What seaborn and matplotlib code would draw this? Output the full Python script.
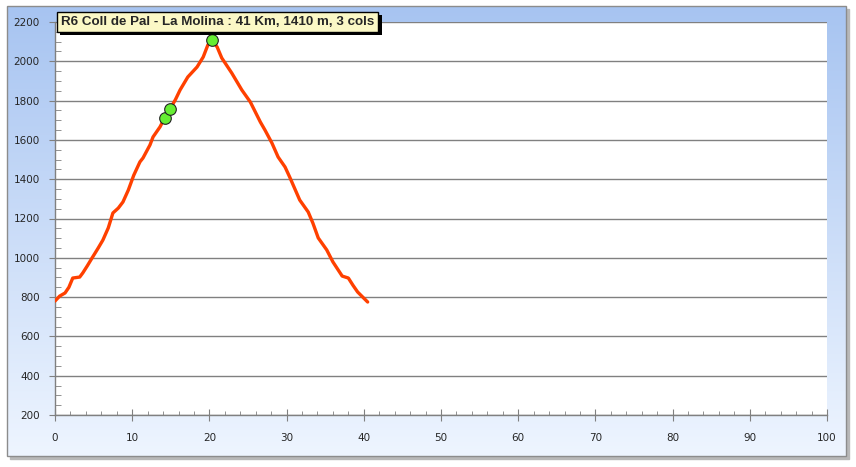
import numpy as np
import pandas as pd
import seaborn as sns
import matplotlib.pyplot as plt
import matplotlib.patheffects as pe
from matplotlib.patches import Rectangle
from matplotlib.colors import LinearSegmentedColormap

# Perfil R6 Coll de Pal - La Molina
km = [0, 0.6, 1.3, 1.8, 2.3, 3.2, 3.6, 4.2, 4.8, 5.6, 6.2, 6.9, 7.5, 8.2, 8.8,
      9.5, 10.2, 11.0, 11.4, 12.3, 12.7, 13.6, 14.2, 14.9, 15.6, 16.2, 17.2,
      18.4, 19.2, 19.8, 20.3, 21.0, 21.6, 22.9, 24.2, 25.3, 26.6, 27.2, 28.1,
      28.9, 29.8, 30.4, 31.7, 32.8, 33.4, 34.1, 35.2, 36.0, 37.2, 38.0, 38.6,
      39.2, 40.5]
altitud = [780, 805, 821, 850, 897, 902, 923, 960, 999, 1050, 1090, 1152, 1228,
           1253, 1284, 1345, 1420, 1488, 1508, 1574, 1615, 1666, 1711, 1757,
           1805, 1854, 1920, 1971, 2022, 2083, 2108, 2073, 2017, 1940, 1854,
           1793, 1691, 1650, 1584, 1513, 1462, 1411, 1294, 1233, 1177, 1101,
           1040, 979, 907, 897, 860, 826, 775]

cols_km = [14.2, 14.9, 20.3]
cols_alt = [1711, 1757, 2108]

titulo = "R6 Coll de Pal - La Molina : 41 Km, 1410 m, 3 cols"

perfil = pd.DataFrame({"km": km, "alt": altitud})
cols = pd.DataFrame({"km": cols_km, "alt": cols_alt})

sns.set_style("white")
plt.rcParams['font.family'] = ['DejaVu Sans']

W, H = 856, 467
fig = plt.figure(figsize=(W / 100, H / 100), dpi=100)
fig.patch.set_facecolor("white")

# fondo degradado con marco
bg = fig.add_axes([0, 0, 1, 1], zorder=-10)
bg.set_xlim(0, W)
bg.set_ylim(H, 0)
bg.axis("off")
grad = LinearSegmentedColormap.from_list("g", ["#a7c4f1", "#eef5ff"])
bg.add_patch(Rectangle((10, 9), 839, 450, color="#b8b8b8", zorder=1))
bg.imshow(np.linspace(0, 1, 256).reshape(-1, 1), cmap=grad, aspect="auto",
          extent=(7, 846, 456, 6), zorder=2)
bg.add_patch(Rectangle((7, 6), 839, 450, fill=False, edgecolor="#8c8c8c",
                       lw=1, zorder=3))

ax = fig.add_axes([55 / W, 1 - 415 / H, (827 - 55) / W, (415 - 22) / H])
ax.set_facecolor("white")

sns.lineplot(data=perfil, x="km", y="alt", ax=ax, color="#ff4000",
             linewidth=2.4, zorder=3)
sns.scatterplot(data=cols, x="km", y="alt", ax=ax, color="#66ee33",
                edgecolor="#222222", linewidth=0.8, s=70, zorder=4)

ax.set_xlim(0, 100)
ax.set_ylim(200, 2200)
ax.set_xticks(range(0, 101, 10))
ax.set_xticks(range(0, 101, 2), minor=True)
ax.set_yticks(range(200, 2201, 200))
ax.set_yticks(range(200, 2201, 50), minor=True)
ax.grid(axis="y", color="#808080", linewidth=1)
ax.set_xlabel("")
ax.set_ylabel("")

for s in ["top", "right"]:
    ax.spines[s].set_visible(False)
for s in ["left", "bottom"]:
    ax.spines[s].set_color("#808080")
    ax.spines[s].set_linewidth(1)

ax.tick_params(axis="y", which="major", direction="out", length=4,
               color="#808080", labelsize=7.5, pad=7, left=True)
ax.tick_params(axis="y", which="minor", direction="in", length=4,
               color="#808080", left=True)
ax.tick_params(axis="x", which="major", direction="inout", length=8,
               color="#808080", labelsize=7.5, pad=9, bottom=True)
ax.tick_params(axis="x", which="minor", direction="in", length=3,
               color="#808080", bottom=True)

t = fig.text(61 / W, 1 - 22 / H, titulo, fontsize=9.6, fontweight="bold",
             family=["Liberation Sans", "DejaVu Sans"], va="center",
             ha="left", zorder=10,
             bbox=dict(boxstyle="square,pad=0.3", facecolor="#fbf8c6",
                       edgecolor="black", linewidth=1))
t.get_bbox_patch().set_path_effects(
    [pe.withSimplePatchShadow(offset=(2.5, -2.5), shadow_rgbFace="black",
                              alpha=1)])

fig.savefig("out.png", dpi=100)
